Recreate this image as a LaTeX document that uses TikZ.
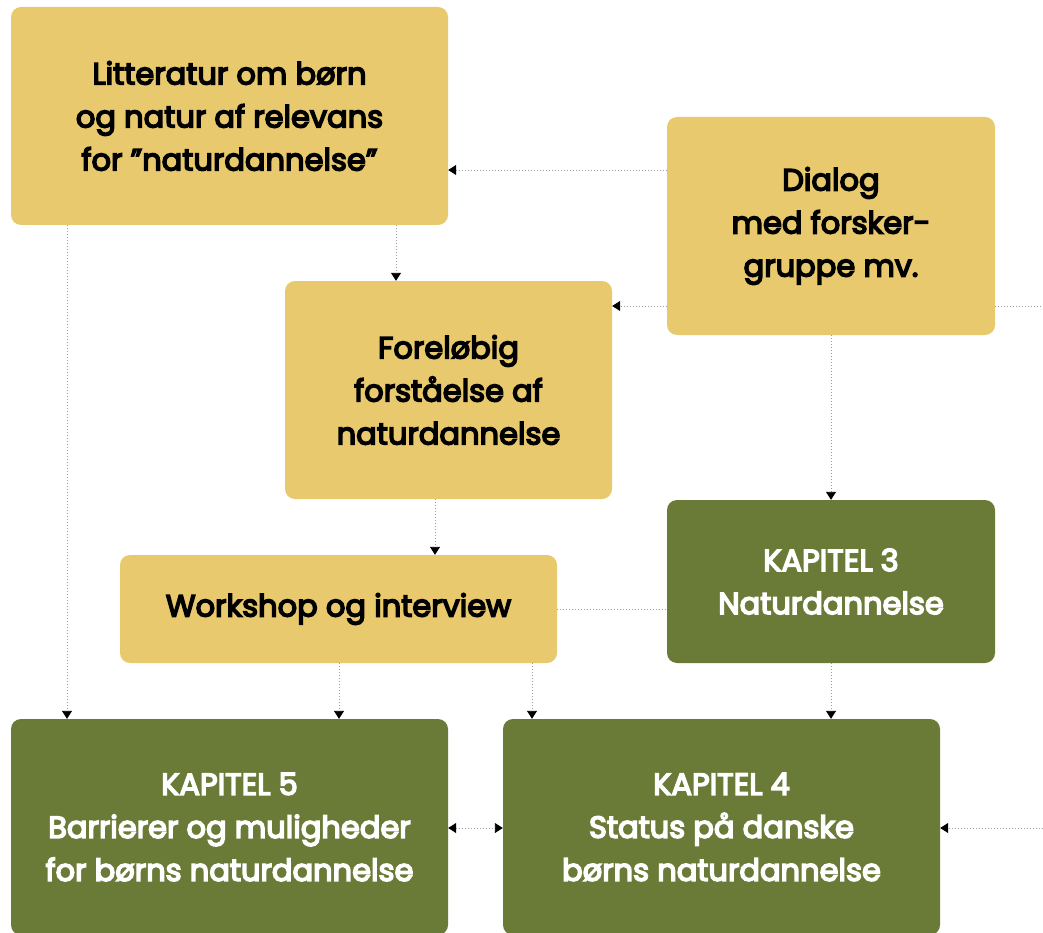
\documentclass[tikz,border=0pt]{standalone}
\usepackage{fontspec}
\setmainfont{Poppins}
\newfontfamily\medfont{Poppins}[FakeBold=5]
\usetikzlibrary{arrows.meta,calc}
\definecolor{ylw}{HTML}{E9C96D}
\definecolor{grn}{HTML}{6A7B37}
\definecolor{lne}{HTML}{9A9A9A}
\tikzset{
  box/.style={rounded corners=10pt, inner sep=0pt, align=center, font=\fontsize{30.5}{43}\medfont},
  ybox/.style={box, fill=ylw, text=black},
  gbox/.style={box, fill=grn, text=white},
  conn/.style={draw=lne, line width=0.9pt, dash pattern=on 1pt off 2pt},
  tip/.style={-{Triangle[width=10pt,length=8pt,fill=black,color=black]}},
  tips/.style={{Triangle[width=10pt,length=8pt,fill=black,color=black]}-{Triangle[width=10pt,length=8pt,fill=black,color=black]}}
}
\begin{document}
\begin{tikzpicture}[x=1pt,y=-1pt]
\clip (0,0) rectangle (1043,933);
\fill[white] (0,0) rectangle (1043,933);
% boxes
\node[ybox, minimum width=437pt, minimum height=218pt] (A) at (229.5,116) {Litteratur om børn\\og natur af relevans\\for ”naturdannelse”};
\node[ybox, minimum width=328pt, minimum height=218pt] (B) at (831,226) {Dialog\\med forsker-\\gruppe mv.};
\node[ybox, minimum width=327pt, minimum height=218pt] (C) at (448.5,390) {Foreløbig\\forståelse af\\naturdannelse};
\node[ybox, minimum width=437pt, minimum height=108pt] (D) at (338.5,609) {Workshop og interview};
\node[gbox, minimum width=328pt, minimum height=163pt] (E) at (831,581.5) {KAPITEL 3\\Naturdannelse};
\node[gbox, minimum width=437pt, minimum height=216pt] (F) at (229.5,827) {KAPITEL 5\\Barrierer og muligheder\\for børns naturdannelse};
\node[gbox, minimum width=437pt, minimum height=216pt] (G) at (721.5,827) {KAPITEL 4\\Status på danske\\børns naturdannelse};
\coordinate (r1) at (1043,306);
\coordinate (r2) at (1043,828);
% connectors
\draw[conn,tip] (B.west |- 0,170) -- (A.east |- 0,170);
\draw[conn,tip] (A.south -| 396,0) -- (C.north -| 396,0);
\draw[conn,tip] (B.west |- 0,306) -- (C.east |- 0,306);
\draw[conn] (B.east |- 0,306) -- (r1);
\draw[conn,tip] (B.south) -- (E.north);
\draw[conn,tip] (C.south -| 435,0) -- (D.north -| 435,0);
\draw[conn] (D.east) -- (E.west |- D.east);
\draw[conn,tip] (A.south -| 67,0) -- (F.north -| 67,0);
\draw[conn,tip] (D.south -| 339,0) -- (F.north -| 339,0);
\draw[conn,tip] (D.south -| 532,0) -- (G.north -| 532,0);
\draw[conn,tip] (E.south) -- (G.north -| E.south);
\draw[conn,tips] (F.east |- 0,828) -- (G.west |- 0,828);
\draw[conn,tip] (r2) -- (G.east |- r2);
\end{tikzpicture}
\end{document}
